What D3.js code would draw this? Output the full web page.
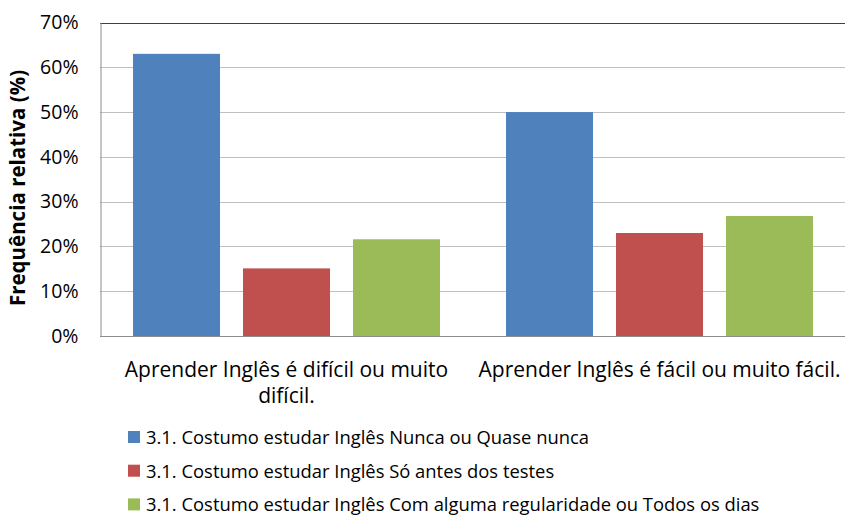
<!DOCTYPE html>
<html lang="pt">
<head>
    <meta charset="UTF-8">
    <title>Frequência relativa</title>
    <script src="https://d3js.org/d3.v7.min.js"></script>
    <style>
        body { margin: 0; background: #fff; }
        svg text { font-family: "Open Sans", "Noto Sans", sans-serif; fill: #000; }
        .grid line { stroke: #c0c0c0; stroke-width: 1px; }
        .axis path, .axis line { stroke: #8c8c8c; }
    </style>
</head>
<body>
<div id="chart"></div>
<script>
    // Data
    const categories = [
        ["Aprender Inglês é difícil ou muito", "difícil."],
        ["Aprender Inglês é fácil ou muito fácil."]
    ];
    const seriesNames = [
        "3.1. Costumo estudar Inglês Nunca ou Quase nunca",
        "3.1. Costumo estudar Inglês Só antes dos testes",
        "3.1. Costumo estudar Inglês Com alguma regularidade ou Todos os dias"
    ];
    const nunca = [63, 50];
    const soAntes = [15.1, 23];
    const regular = [21.6, 26.8];
    const yTicks = [0, 10, 20, 30, 40, 50, 60, 70];
    const colors = ["#4f81bd", "#c0504d", "#9bbb59"];

    const series = [nunca, soAntes, regular];
    const width = 845, height = 520;
    const margin = {top: 22.5, right: -1, bottom: 184, left: 100};

    const svg = d3.select("#chart").append("svg")
        .attr("width", width)
        .attr("height", height);

    const x0 = d3.scaleBand()
        .domain(d3.range(categories.length))
        .range([margin.left, width - margin.right])
        .paddingInner(0)
        .paddingOuter(0);

    const x1 = d3.scaleBand()
        .domain(d3.range(series.length))
        .range([0, x0.bandwidth()])
        .paddingInner(0.209)
        .paddingOuter(0.3);

    const y = d3.scaleLinear()
        .domain([0, 70])
        .range([height - margin.bottom, margin.top]);

    // gridlines
    svg.append("g")
        .attr("class", "grid")
        .selectAll("line")
        .data(yTicks.slice(1))
        .enter().append("line")
        .attr("x1", margin.left)
        .attr("x2", width)
        .attr("y1", d => Math.round(y(d)) + 0.5)
        .attr("y2", d => Math.round(y(d)) + 0.5)
        .style("stroke", d => d === 70 ? "#404040" : null);

    // bars
    const groups = svg.append("g")
        .selectAll("g")
        .data(categories.map((c, i) => i))
        .enter().append("g")
        .attr("transform", i => `translate(${x0(i)},0)`);

    groups.selectAll("rect")
        .data(i => series.map((s, k) => ({k: k, v: s[i]})))
        .enter().append("rect")
        .attr("x", d => x1(d.k))
        .attr("width", x1.bandwidth())
        .attr("y", d => y(d.v))
        .attr("height", d => y(0) - y(d.v))
        .attr("fill", d => colors[d.k]);

    // y axis
    const yAxis = svg.append("g")
        .attr("class", "axis")
        .attr("transform", `translate(${margin.left + 0.5},0)`)
        .call(d3.axisLeft(y).tickValues(yTicks).tickFormat(d => d + "%").tickSize(0).tickPadding(22));
    yAxis.selectAll("text").style("font-size", "19.5px");

    // x axis baseline
    svg.append("line")
        .attr("x1", margin.left)
        .attr("x2", width)
        .attr("y1", Math.round(y(0)) + 0.5)
        .attr("y2", Math.round(y(0)) + 0.5)
        .style("stroke", "#8c8c8c");

    // category labels
    svg.append("g")
        .selectAll("text")
        .data(categories)
        .enter().append("text")
        .attr("x", (d, i) => x0(i) + x0.bandwidth() / 2)
        .attr("y", 377)
        .attr("text-anchor", "middle")
        .style("font-size", "21px")
        .selectAll("tspan")
        .data(d => d)
        .enter().append("tspan")
        .attr("x", function () { return this.parentNode.getAttribute("x"); })
        .attr("dy", (d, i) => i === 0 ? 0 : 26)
        .text(d => d);

    // y axis title
    svg.append("text")
        .attr("transform", "translate(25,188) rotate(-90)")
        .attr("text-anchor", "middle")
        .style("font-size", "20.5px")
        .style("font-weight", "bold")
        .text("Frequência relativa (%)");

    // legend
    const legend = svg.append("g")
        .selectAll("g")
        .data(seriesNames)
        .enter().append("g")
        .attr("transform", (d, i) => `translate(128,${444 + i * 33.7})`);

    legend.append("rect")
        .attr("y", -13)
        .attr("width", 12)
        .attr("height", 12)
        .attr("fill", (d, i) => colors[i]);

    legend.append("text")
        .attr("x", 18)
        .style("font-size", "18.4px")
        .text(d => d);
</script>
</body>
</html>
